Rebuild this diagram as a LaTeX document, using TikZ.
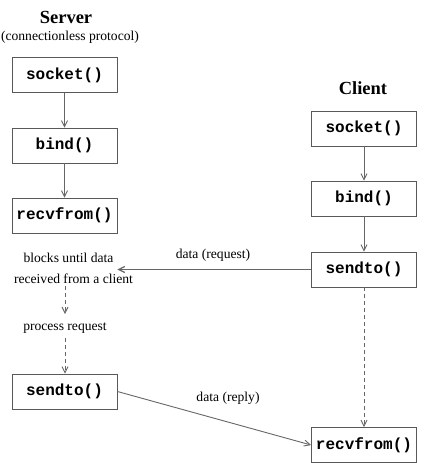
\documentclass[tikz,border=0pt]{standalone}
\usepackage{fontspec}
\setmainfont{Liberation Serif}
\setmonofont{Liberation Mono}
\usetikzlibrary{arrows.meta}
\begin{document}
\begin{tikzpicture}[x=1pt,y=-1pt,
  fn/.style={draw=black!65,line width=0.9pt,minimum width=105pt,minimum height=35pt,inner sep=0pt,font=\fontsize{16}{16}\selectfont\ttfamily\bfseries},
  lbl/.style={inner sep=0pt,font=\fontsize{13.6}{13.6}\selectfont},
  ttl/.style={inner sep=0pt,font=\fontsize{18.5}{18.5}\selectfont\bfseries},
  arr/.style={draw=black!60,line width=0.9pt,-{Straight Barb[length=6pt,width=6pt]}},
  darr/.style={arr,dash pattern=on 4pt off 3pt}]
\useasboundingbox (0,0) rectangle (430,463);
% server
\node[ttl] (stitle) at (66,17) {Server};
\node[lbl] (ssub) at (70,37) {(connectionless protocol)};
\node[fn] (ssock) at (64.5,75) {socket()};
\node[fn] (sbind) at (64.5,145.5) {bind()};
\node[fn] (srecv) at (64.5,215.5) {recvfrom()};
\node[lbl] (blocks) at (68.5,258) {blocks until data};
\node[lbl] (recvd) at (73.5,279) {received from a client};
\node[lbl] (proc) at (65,328) {process request};
\node[fn] (ssend) at (64.5,391.5) {sendto()};
% client
\node[ttl] (ctitle) at (363,88) {Client};
\node[fn] (csock) at (364,128.5) {socket()};
\node[fn] (cbind) at (364,198.5) {bind()};
\node[fn] (csend) at (364,269.5) {sendto()};
\node[fn] (crecv) at (364,445) {recvfrom()};
% connectors
\draw[arr] (ssock) -- (sbind);
\draw[arr] (sbind) -- (srecv);
\coordinate (d1s) at (65,286);
\coordinate (d1e) at (65,314);
\coordinate (d2s) at (65,338);
\draw[darr] (d1s) -- (d1e);
\draw[darr] (d2s) -- (d2s |- ssend.north);
\draw[arr] (csock) -- (cbind);
\draw[arr] (cbind) -- (csend);
\draw[darr] (csend) -- (crecv);
\draw[arr,line width=1.2pt] (csend.west) -- (csend.west -| srecv.east);
\draw[arr] (ssend.east) -- (crecv.west);
\node[lbl] (lreq) at (213,255) {data (request)};
\node[lbl] (lrep) at (228,398) {data (reply)};
\end{tikzpicture}
\end{document}
